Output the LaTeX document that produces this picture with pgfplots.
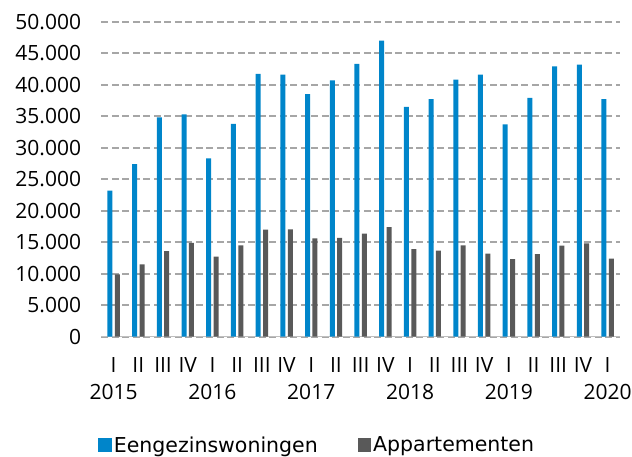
\documentclass[border=0pt]{standalone}
\usepackage{pgfplots}
\pgfplotsset{compat=1.18}
\usepackage{fontspec}
\setmainfont{Open Sans}
\newfontfamily\legendfont{DejaVu Sans}
\definecolor{eblue}{RGB}{0,133,202}
\definecolor{agray}{RGB}{89,89,89}
\definecolor{gridgray}{RGB}{166,166,166}
\definecolor{axgray}{RGB}{191,191,191}
\pgfplotstableread{
x eeng app
0 23200 9900
1 27400 11500
2 34800 13600
3 35300 14900
4 28300 12700
5 33800 14500
6 41700 17000
7 41600 17050
8 38500 15600
9 40700 15700
10 43300 16350
11 47000 17400
12 36500 13900
13 37700 13650
14 40800 14500
15 41600 13200
16 33700 12300
17 37900 13100
18 42900 14450
19 43200 14800
20 37700 12400
}\datatable
\begin{document}
\begin{tikzpicture}
\begin{axis}[
  scale only axis,
  width=518.7bp, height=315bp,
  xmin=-0.5, xmax=20.5,
  ymin=0, ymax=50000,
  ytick distance=5000,
  scaled y ticks=false,
  axis x line*=bottom, axis y line*=left,
  y axis line style={draw=none},
  x axis line style={draw=axgray, line width=1.5bp},
  major tick length=0pt,
  ymajorgrids,
  grid style={draw=gridgray, line width=1.6bp, dash pattern=on 7bp off 3.5bp},
  /pgf/number format/.cd, 1000 sep={.}, assume math mode=true,
  /pgfplots/.cd,
  yticklabel style={font=\fontsize{21bp}{25bp}\selectfont, inner sep=0pt, xshift=-20bp, anchor=east},
  xtick={0,...,20},
  xticklabels={{I\\2015},II,III,IV,{I\\2016},II,III,IV,{I\\2017},II,III,IV,{I\\2018},II,III,IV,{I\\2019},II,III,IV,{I\\2020}},
  xticklabel style={font=\fontsize{21bp}{26.7bp}\selectfont, align=center, anchor=north, inner sep=0pt, yshift=-21bp},
  legend columns=2,
  legend style={at={(-0.0058,-0.3438)}, anchor=west, draw=none, fill=none, inner sep=0pt,
    font=\legendfont\fontsize{20.5bp}{25bp}\selectfont,
    /tikz/every even column/.append style={column sep=38bp}},
  legend image code/.code={\fill[#1] (0bp,-6.7bp) rectangle (13.4bp,6.7bp);},
]
\addplot[ybar, bar width=5bp, bar shift=-3.7bp, fill=eblue, draw=none] table[x=x, y=eeng] {\datatable};
\addlegendentry{Eengezinswoningen}
\addplot[ybar, bar width=5bp, bar shift=3.7bp, fill=agray, draw=none] table[x=x, y=app] {\datatable};
\addlegendentry{Appartementen}
\end{axis}
\pgfresetboundingbox
\path (current axis.south west) ++(-101.3bp,-120.3bp) rectangle ++(632bp,457bp);
\end{tikzpicture}
\end{document}
